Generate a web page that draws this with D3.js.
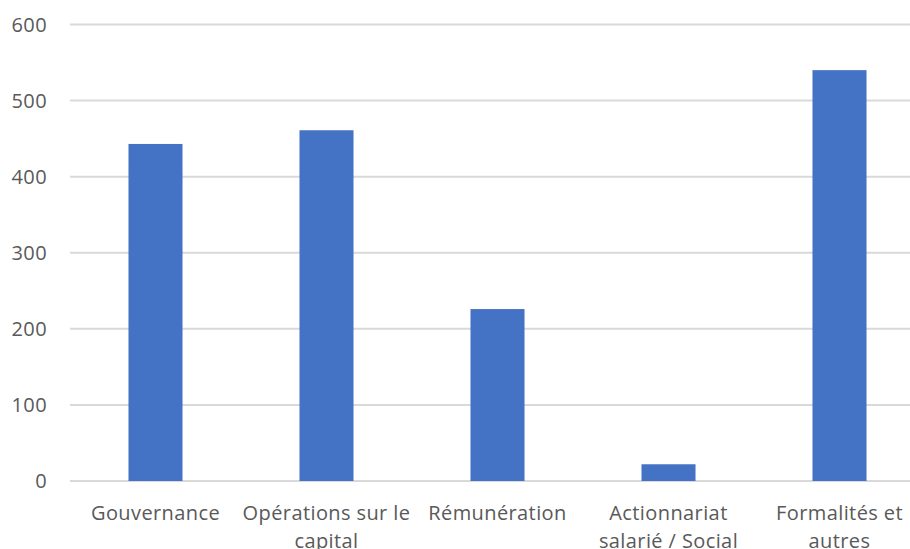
<!DOCTYPE html>
<html>
<head>
<meta charset="utf-8">
<script src="https://cdn.jsdelivr.net/npm/d3@7"></script>
<style>
    body { margin: 0; background: #fff; }
    text { font-family: "Open Sans", "Noto Sans", sans-serif; fill: #595959; letter-spacing: 0.4px; }
</style>
</head>
<body>
<div id="chart"></div>
<script>
var categories = ["Gouvernance", "Opérations sur le capital", "Rémunération", "Actionnariat salarié / Social", "Formalités et autres"];
var values = [443, 461, 226, 22, 540];
var yTicks = [0, 100, 200, 300, 400, 500, 600];

var width = 910,
    height = 549,
    plotLeft = 70,
    plotRight = 925,
    plotTop = 24.5,
    plotBottom = 481;

var svg = d3.select('#chart')
    .append('svg')
    .attr('width', width)
    .attr('height', height);

var x = d3.scaleBand()
    .domain(categories)
    .range([plotLeft, plotRight])
    .paddingInner(0.684)
    .paddingOuter(0.342);

var y = d3.scaleLinear()
    .domain([0, 600])
    .range([plotBottom, plotTop]);

// gridlines
svg.append('g')
    .selectAll('line')
    .data(yTicks)
    .enter()
    .append('line')
    .attr('x1', plotLeft)
    .attr('x2', plotRight)
    .attr('y1', function (d) { return y(d); })
    .attr('y2', function (d) { return y(d); })
    .attr('stroke', '#d9d9d9')
    .attr('stroke-width', 2);

// y tick labels
svg.append('g')
    .selectAll('text')
    .data(yTicks)
    .enter()
    .append('text')
    .attr('x', 47)
    .attr('y', function (d) { return y(d); })
    .attr('dy', '0.35em')
    .attr('text-anchor', 'end')
    .style('font-size', '20px')
    .text(function (d) { return d; });

// bars
svg.append('g')
    .selectAll('rect')
    .data(values)
    .enter()
    .append('rect')
    .attr('x', function (d, i) { return x(categories[i]); })
    .attr('width', x.bandwidth())
    .attr('y', function (d) { return y(d); })
    .attr('height', function (d) { return y(0) - y(d); })
    .attr('fill', '#4472c4');

// category labels, wrapped to the band step
var labels = svg.append('g')
    .selectAll('text')
    .data(categories)
    .enter()
    .append('text')
    .attr('text-anchor', 'middle')
    .style('font-size', '20px')
    .attr('x', function (d) { return x(d) + x.bandwidth() / 2; })
    .attr('y', 520);

labels.each(function (d) {
    var t = d3.select(this),
        words = d.split(' '),
        line = [],
        tspan = t.append('tspan').attr('x', t.attr('x'));
    words.forEach(function (w) {
        line.push(w);
        tspan.text(line.join(' '));
        if (tspan.node().getComputedTextLength() > x.step() + 8 && line.length > 1) {
            line.pop();
            tspan.text(line.join(' '));
            line = [w];
            tspan = t.append('tspan').attr('x', t.attr('x')).attr('dy', '28px').text(w);
        }
    });
});
</script>
</body>
</html>
